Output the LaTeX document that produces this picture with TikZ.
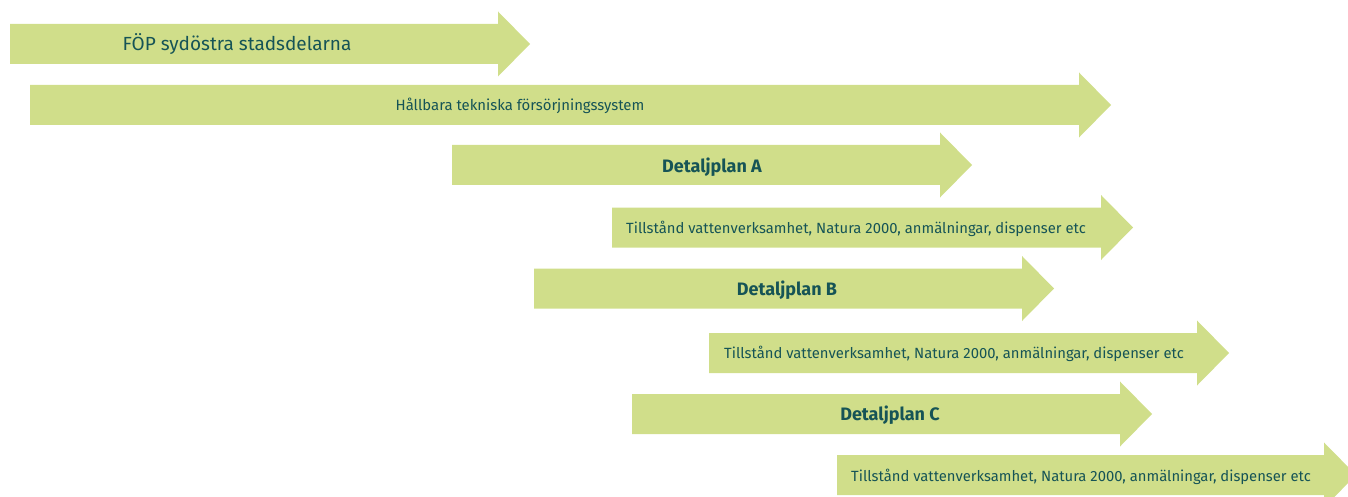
\documentclass[tikz,border=0pt]{standalone}
\usepackage{fontspec}
\setmainfont{Fira Sans}
\begin{document}
\definecolor{barfill}{RGB}{208,222,138}
\definecolor{bartext}{RGB}{22,84,86}
% \phasearrow{name}{x start}{x head base}{y centre}
\newcommand{\phasearrow}[4]{%
  \fill[barfill] (#2,#4-20) -- (#3,#4-20) -- (#3,#4-32.5) -- (#3+32,#4)
    -- (#3,#4+32.5) -- (#3,#4+20) -- (#2,#4+20) -- cycle;
  \coordinate (#1) at (#2,#4);}
\begin{tikzpicture}[x=1pt,y=-1pt,
  lbl/.style={text=bartext,inner sep=0pt,anchor=base},
  lblbig/.style={lbl,font=\fontsize{19}{22}\selectfont},
  lblsmall/.style={lbl,font=\fontsize{14.9}{17}\selectfont},
  lblbold/.style={lbl,font=\fontsize{18}{21}\selectfont\bfseries},
  lblleft/.style={lbl,anchor=base west,font=\fontsize{14.8}{17}\selectfont}]
\useasboundingbox (0,0) rectangle (1348,497);
\begin{scope}
\clip (0,0) rectangle (1348,497);
\phasearrow{foep}{10}{498}{44}
\phasearrow{hallbara}{30}{1079}{105}
\phasearrow{dpa}{452}{940}{165}
\phasearrow{tillA}{612}{1101}{227.5}
\phasearrow{dpb}{534}{1022}{288.5}
\phasearrow{tillB}{709}{1197}{353}
\phasearrow{dpc}{632}{1120}{414}
\phasearrow{tillC}{837}{1324}{475}
\end{scope}
\node[lblbig] (tfoep) at (237,50.5) {FÖP sydöstra stadsdelarna};
\node[lblsmall] (thallbara) at (520,110.5) {Hållbara tekniska försörjningssystem};
\node[lblbold] (tdpa) at (712,172) {Detaljplan A};
\node[lblleft] (ttillA) at (626,233.5) {Tillstånd vattenverksamhet, Natura 2000, anmälningar, dispenser etc};
\node[lblbold] (tdpb) at (787,295) {Detaljplan B};
\node[lblleft] (ttillB) at (724,358.5) {Tillstånd vattenverksamhet, Natura 2000, anmälningar, dispenser etc};
\node[lblbold] (tdpc) at (890,420) {Detaljplan C};
\node[lblleft] (ttillC) at (851,481.5) {Tillstånd vattenverksamhet, Natura 2000, anmälningar, dispenser etc};
\end{tikzpicture}
\end{document}
